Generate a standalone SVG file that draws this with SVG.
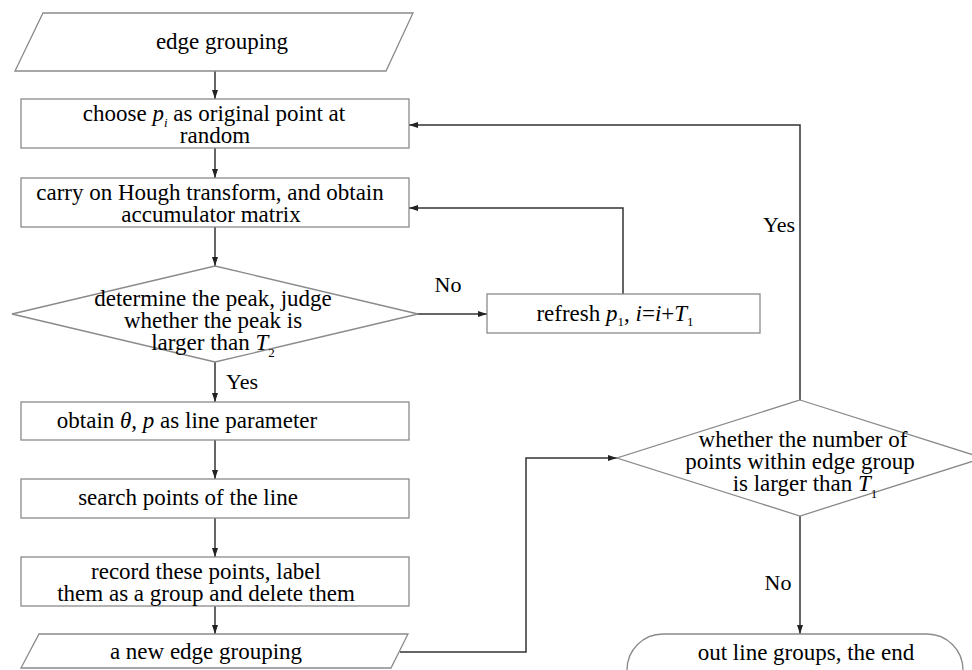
<svg xmlns="http://www.w3.org/2000/svg" width="972" height="670" viewBox="0 0 972 670">
<defs>
<marker id="arr" markerUnits="userSpaceOnUse" markerWidth="10" markerHeight="6" refX="9" refY="3" orient="auto">
<path d="M0,0 L9,3 L0,6 z" fill="#222"/>
</marker>
<style>
.shape{fill:#fff;stroke:#8a8a8a;stroke-width:1.3}
.conn{fill:none;stroke:#333;stroke-width:1.5;marker-end:url(#arr)}
text{font-family:'Liberation Serif','DejaVu Serif',serif;font-size:23px;fill:#000;text-anchor:middle}
.lbl{font-size:22px}
.it{font-style:italic}
.sub{font-size:13px}
</style>
</defs>
<rect width="972" height="670" fill="#fff"/>
<g id="connectors">
<path class="conn" d="M215,71 V99"/>
<path class="conn" d="M215,148 V178"/>
<path class="conn" d="M215,227 V266"/>
<path class="conn" d="M417,314 H487"/>
<path class="conn" d="M623,294 V208 H409"/>
<path class="conn" d="M215,362 V402"/>
<path class="conn" d="M215,440 V479"/>
<path class="conn" d="M215,518 V557"/>
<path class="conn" d="M215,606 V634"/>
<path class="conn" d="M400,652 H526 V458 H617"/>
<path class="conn" d="M800,400 V125 H409"/>
<path class="conn" d="M800,516 V634"/>
<text class="lbl" x="448" y="292">No</text>
<text class="lbl" x="242" y="389">Yes</text>
<text class="lbl" x="779" y="232">Yes</text>
<text class="lbl" x="778" y="590">No</text>
</g>
<g id="n1">
<polygon class="shape" points="43,13 413,13 386,71 15,71"/>
<text x="222" y="49">edge grouping</text>
</g>
<g id="n2">
<rect class="shape" x="21" y="99" width="388" height="49"/>
<text x="214" y="121">choose <tspan class="it">p</tspan><tspan class="it sub" dy="6">i</tspan><tspan dy="-6"> as original point at</tspan></text>
<text x="215" y="143">random</text>
</g>
<g id="n3">
<rect class="shape" x="21" y="178" width="388" height="49"/>
<text x="210" y="200">carry on Hough transform, and obtain</text>
<text x="211" y="222">accumulator matrix</text>
</g>
<g id="n4">
<polygon class="shape" points="215,266 418,314 215,362 12,314"/>
<text x="213" y="306">determine the peak, judge</text>
<text x="213" y="328">whether the peak is</text>
<text x="213" y="350">larger than <tspan class="it">T</tspan><tspan class="sub" dy="7">2</tspan></text>
</g>
<g id="n5">
<rect class="shape" x="487" y="294" width="273" height="39"/>
<text x="615" y="321">refresh <tspan class="it">p</tspan><tspan class="sub" dy="5">1</tspan><tspan dy="-5">, </tspan><tspan class="it">i</tspan>=<tspan class="it">i</tspan>+<tspan class="it">T</tspan><tspan class="sub" dy="5">1</tspan></text>
</g>
<g id="n6">
<rect class="shape" x="21" y="402" width="388" height="38"/>
<text x="187" y="428">obtain <tspan class="it">θ</tspan>, <tspan class="it">p</tspan> as line parameter</text>
</g>
<g id="n7">
<rect class="shape" x="21" y="479" width="388" height="39"/>
<text x="188" y="505">search points of the line</text>
</g>
<g id="n8">
<rect class="shape" x="21" y="557" width="388" height="49"/>
<text x="206" y="579">record these points, label</text>
<text x="206" y="601">them as a group and delete them</text>
</g>
<g id="n9">
<polygon class="shape" points="39,634 408,634 391,668 21,668"/>
<text x="206" y="659">a new edge grouping</text>
</g>
<g id="n10">
<polygon class="shape" points="800,400 983,458 800,516 617,458"/>
<text x="803" y="447">whether the number of</text>
<text x="800" y="469">points within edge group</text>
<text x="805" y="491">is larger than <tspan class="it">T</tspan><tspan class="sub" dy="7">1</tspan></text>
</g>
<g id="n11">
<rect class="shape" x="627" y="634" width="336" height="72" rx="36" ry="36"/>
<text x="806" y="660">out line groups, the end</text>
</g>
</svg>
